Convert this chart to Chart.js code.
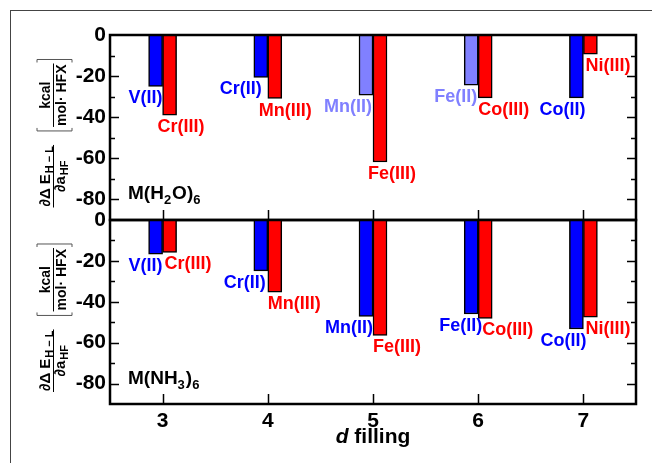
<!DOCTYPE html>
<html>
<head>
<meta charset="utf-8">
<script src="https://cdn.jsdelivr.net/npm/chart.js@4.4.1/dist/chart.umd.min.js"></script>
<style>
  body { margin: 0; background: #fff; }
  #wrap { position: relative; width: 652px; height: 463px; overflow: hidden; background: #fff; }
  #frame { position: absolute; left: 10px; top: 10px; width: 700px; height: 500px;
           border-top: 1px solid #444; border-left: 1px solid #444; }
  canvas { position: absolute; left: 0; }
  #topChart { top: 0; }
  #botChart { top: 190px; }
</style>
</head>
<body>
<div id="wrap">
  <div id="frame"></div>
  <canvas id="topChart" width="652" height="222"></canvas>
  <canvas id="botChart" width="652" height="273"></canvas>
</div>
<script>
// d filling categories
const dFilling = ['3', '4', '5', '6', '7'];
const m2Names = ['V(II)', 'Cr(II)', 'Mn(II)', 'Fe(II)', 'Co(II)'];
const m3Names = ['Cr(III)', 'Mn(III)', 'Fe(III)', 'Co(III)', 'Ni(III)'];

// dΔE(H-L)/da(HF), kcal/(mol·HFX)
const h2oM2 = [-25.0, -20.6, -29.3, -24.4, -30.6];
const h2oM3 = [-39.0, -30.9, -61.8, -30.6, -9.3];
const nh3M2 = [-16.7, -24.9, -47.2, -46.0, -53.3];
const nh3M3 = [-15.8, -35.3, -56.4, -48.1, -47.5];

const yTicks = [-80, -60, -40, -20, 0];

const BLUE = '#0000ff', LIGHT = '#8080ff', RED = '#ff0000';
const h2oM2Colors = [BLUE, BLUE, LIGHT, LIGHT, BLUE];
const nh3M2Colors = [BLUE, BLUE, BLUE, BLUE, BLUE];

// small horizontal nudges for the value labels (px)
const h2oNudge = { m2: [0, -6, -1, -1, 2], m3: [-5, -9, -5, 0, 2] };
const nh3Nudge = { m2: [0, -2, 0, 4, 3], m3: [2, 0, 0, 4, 2] };

const FONT = '"Liberation Sans", Arial, Helvetica, sans-serif';
const font = (size, style) => `${style || 'bold'} ${size}px ${FONT}`;

function drawYTitle(ctx, cx, cy) {
    ctx.save();
    ctx.translate(cx, cy);
    ctx.rotate(-Math.PI / 2);
    ctx.fillStyle = '#000';
    ctx.strokeStyle = '#000';
    ctx.textBaseline = 'alphabetic';
    ctx.textAlign = 'left';
    const w = (t, s) => { ctx.font = font(s); return ctx.measureText(t).width; };

    const numA = w('∂Δ E', 15), numB = w('H − L', 11);
    const denA = w('∂a', 15), denB = w('HF', 11);
    const numW = numA + 1 + numB, denW = denA + 1 + denB;
    const f1W = Math.max(numW, denW) + 2;
    const kW = w('kcal', 14), mW = w('mol· HFX', 14);
    const f2W = Math.max(kW, mW) + 2;
    const total = f1W + 14 + 4 + f2W + 4;
    let x = -total / 2;

    // first fraction
    let nx = x + (f1W - numW) / 2;
    ctx.font = font(15); ctx.fillText('∂Δ E', nx, -3);
    ctx.font = font(11); ctx.fillText('H − L', nx + numA + 1, 0);
    let dx = x + (f1W - denW) / 2;
    ctx.font = font(15); ctx.fillText('∂a', dx, 12);
    ctx.font = font(11); ctx.fillText('HF', dx + denA + 1, 15);
    ctx.lineWidth = 1;
    ctx.beginPath(); ctx.moveTo(x, 0.5); ctx.lineTo(x + f1W, 0.5); ctx.stroke();

    // bracket + units fraction
    const xb = x + f1W + 14;
    const xe = xb + 4 + f2W + 4;
    ctx.strokeStyle = '#555';
    ctx.beginPath();
    ctx.moveTo(xb + 3, -16); ctx.lineTo(xb, -16); ctx.lineTo(xb, 19); ctx.lineTo(xb + 3, 19);
    ctx.moveTo(xe - 3, -16); ctx.lineTo(xe, -16); ctx.lineTo(xe, 19); ctx.lineTo(xe - 3, 19);
    ctx.stroke();
    ctx.strokeStyle = '#000';
    const fx = xb + 4;
    ctx.beginPath(); ctx.moveTo(fx, 0.5); ctx.lineTo(fx + f2W, 0.5); ctx.stroke();
    ctx.font = font(14);
    ctx.fillText('kcal', fx + (f2W - kW) / 2, -3);
    ctx.fillText('mol· HFX', fx + (f2W - mW) / 2, 13);
    ctx.restore();
}

function drawFormula(ctx, parts, x, y) {
    ctx.textAlign = 'left';
    ctx.textBaseline = 'alphabetic';
    ctx.fillStyle = '#000';
    parts.forEach(([t, sub]) => {
        ctx.font = font(sub ? 13 : 19);
        ctx.fillText(t, x, sub ? y + 5 : y);
        x += ctx.measureText(t).width + (sub ? 1 : 0);
    });
}

function panelPlugin(formula, nudge, showXTitle) {
    return {
        id: 'panelDecor',
        afterDatasetsDraw(chart) {
            const ctx = chart.ctx;
            const a = chart.chartArea;
            const ys = chart.scales.y, xs = chart.scales.x;
            ctx.save();

            // value labels under each bar
            ctx.font = font(18);
            ctx.textBaseline = 'alphabetic';
            chart.data.datasets.forEach((ds, di) => {
                const meta = chart.getDatasetMeta(di);
                meta.data.forEach((bar, j) => {
                    const color = Array.isArray(ds.backgroundColor) ? ds.backgroundColor[j] : ds.backgroundColor;
                    ctx.fillStyle = color;
                    if (di === 0) {
                        ctx.textAlign = 'right';
                        ctx.fillText(ds.names[j], bar.x + bar.width / 2 + nudge.m2[j], bar.y + 17);
                    } else {
                        ctx.textAlign = 'left';
                        ctx.fillText(ds.names[j], bar.x - bar.width / 2 + nudge.m3[j], bar.y + 17);
                    }
                });
            });

            // frame of the plot
            ctx.strokeStyle = '#000';
            ctx.lineWidth = 2.5;
            ctx.strokeRect(a.left, a.top, a.right - a.left, a.bottom - a.top);

            // inward tick marks
            ctx.lineWidth = 1.5;
            ctx.beginPath();
            for (let v = -80; v < 0; v += 10) {
                const py = Math.round(ys.getPixelForValue(v)) + 0.5;
                const len = (v % 20 === 0) ? 9 : 5;
                ctx.moveTo(a.left, py); ctx.lineTo(a.left + len, py);
                ctx.moveTo(a.right, py); ctx.lineTo(a.right - len, py);
            }
            dFilling.forEach((_, i) => {
                const px = Math.round(xs.getPixelForValue(i)) + 0.5;
                ctx.moveTo(px, a.bottom); ctx.lineTo(px, a.bottom - 10);
            });
            ctx.stroke();

            // panel label and axis title
            drawFormula(ctx, formula, a.left + 18, ys.getPixelForValue(-80));
            drawYTitle(ctx, 53, (a.top + a.bottom) / 2 + 6);

            if (showXTitle) {
                ctx.fillStyle = '#000';
                ctx.textBaseline = 'alphabetic';
                ctx.textAlign = 'left';
                ctx.font = font(21, 'italic bold');
                const wd = ctx.measureText('d').width;
                ctx.font = font(21);
                const wf = ctx.measureText(' filling').width;
                const sx = (a.left + a.right) / 2 - (wd + wf) / 2;
                ctx.font = font(21, 'italic bold');
                ctx.fillText('d', sx, a.bottom + 39);
                ctx.font = font(21);
                ctx.fillText(' filling', sx + wd, a.bottom + 39);
            }
            ctx.restore();
        }
    };
}

function makePanel(id, m2, m3, m2Colors, formula, nudge, isBottom) {
    const ctx = document.getElementById(id).getContext('2d');
    return new Chart(ctx, {
        type: 'bar',
        data: {
            labels: dFilling,
            datasets: [
                {
                    data: m2,
                    names: m2Names,
                    backgroundColor: m2Colors,
                    borderColor: '#000',
                    borderWidth: 1.5,
                    borderSkipped: 'start'
                },
                {
                    data: m3,
                    names: m3Names,
                    backgroundColor: RED,
                    borderColor: '#000',
                    borderWidth: 1.5,
                    borderSkipped: 'start'
                }
            ]
        },
        options: {
            responsive: false,
            animation: false,
            barThickness: 14,
            layout: { padding: isBottom ? { top: 30, right: 16, bottom: 0, left: 0 } : { top: 35, right: 16, bottom: 2, left: 0 } },
            scales: {
                x: {
                    display: isBottom,
                    offset: true,
                    grid: { display: false, drawTicks: false },
                    border: { display: false },
                    ticks: { font: { family: FONT, size: 21, weight: 'bold' }, color: '#000', padding: 5 },
                    afterFit: (scale) => {
                        scale.height = isBottom ? 59 : 0;
                        scale.paddingLeft = 0; scale.paddingRight = 0;
                    }
                },
                y: {
                    min: -90,
                    max: 0,
                    grid: { display: false, drawTicks: false },
                    border: { display: false },
                    afterBuildTicks: (scale) => { scale.ticks = yTicks.map(v => ({ value: v })); },
                    ticks: { font: { family: FONT, size: 21, weight: 'bold' }, color: '#000', padding: 4 },
                    afterFit: (scale) => {
                        scale.width = 110;
                        scale.paddingTop = 0; scale.paddingBottom = 0;
                    }
                }
            },
            plugins: {
                legend: { display: false },
                tooltip: { enabled: false }
            }
        },
        plugins: [panelPlugin(formula, nudge, isBottom)]
    });
}

makePanel('topChart', h2oM2, h2oM3, h2oM2Colors, [['M(H', false], ['2', true], ['O)', false], ['6', true]], h2oNudge, false);
makePanel('botChart', nh3M2, nh3M3, nh3M2Colors, [['M(NH', false], ['3', true], [')', false], ['6', true]], nh3Nudge, true);
</script>
</body>
</html>
